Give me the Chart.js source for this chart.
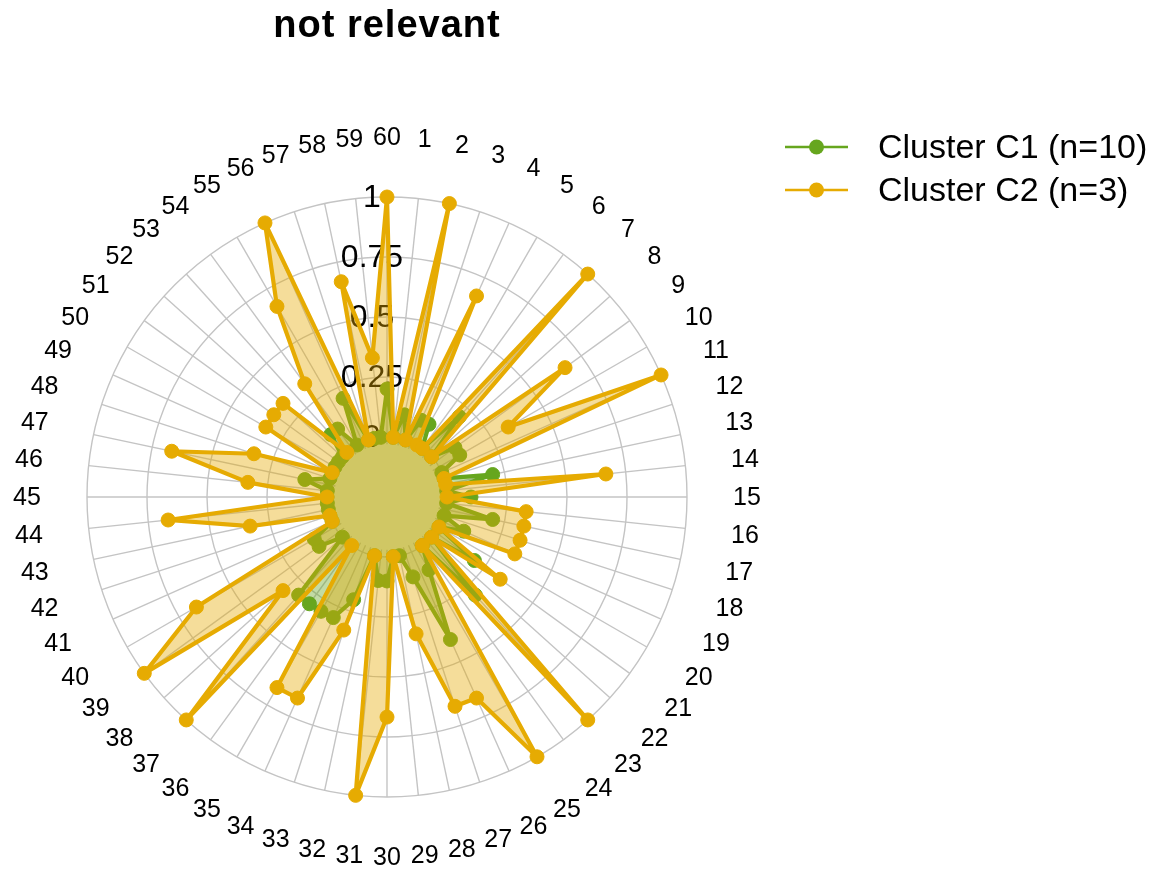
<!DOCTYPE html>
<html><head><meta charset="utf-8">
<script src="https://cdn.jsdelivr.net/npm/chart.js@4.4.1/dist/chart.umd.min.js"></script>
<style>html,body{margin:0;padding:0;background:#fff}</style>
</head><body>
<canvas id="c" width="1159" height="871" style="width:1159px;height:871px;display:block"></canvas>
<script>
const chartTitle = 'not relevant';
const categories = ['60','1','2','3','4','5','6','7','8','9','10','11','12','13','14','15','16','17','18','19',
  '20','21','22','23','24','25','26','27','28','29','30','31','32','33','34','35','36','37','38','39',
  '40','41','42','43','44','45','46','47','48','49','50','51','52','53','54','55','56','57','58','59'];
const seriesNames = ['Cluster C1 (n=10)', 'Cluster C2 (n=3)'];
const seriesColors = ['#66A61E', '#E6AB02'];
const c1Values = [0.2, 0, 0.1, 0, 0.1, 0.1, 0, 0.2, 0, 0.1,
  0.1, 0, 0, 0.2, 0, 0.1, 0, 0.2, 0, 0.1,
  0, 0.2, 0, 0.3, 0, 0.1, 0.4, 0.1, 0, 0,
  0.1, 0.1, 0, 0.2, 0.3, 0.3, 0.3, 0.3, 0, 0.1,
  0.1, 0, 0, 0, 0, 0, 0, 0.1, 0, 0,
  0, 0, 0, 0.1, 0.1, 0, 0.2, 0, 0, 0];
const c2Values = [1, 0, 1, 0, 0.667, 0, 0, 1, 0, 0.667,
  0.333, 1, 0, 0, 0.667, 0, 0.333, 0.333, 0.333, 0.333,
  0, 0.333, 0, 1, 0, 1, 0.667, 0.667, 0.333, 0,
  0.667, 1, 0, 0.333, 0.667, 0.667, 0, 1, 0.333, 1,
  0.667, 0, 0, 0.333, 0.667, 0, 0.333, 0.667, 0.333, 0,
  0.333, 0.333, 0.333, 0, 0.333, 0.667, 1, 0, 0.667, 0.333];
const tickLabels = ['0', '0.25', '0.5', '0.75', '1'];
const tickValues = [0, 0.25, 0.5, 0.75, 1];

const FONT = "'Liberation Sans', Arial, Helvetica, sans-serif";
const GRID = '#C4C4C4';

function hexA(hex, a) {
  const n = parseInt(hex.slice(1), 16);
  return `rgba(${(n >> 16) & 255},${(n >> 8) & 255},${n & 255},${a})`;
}

const decorPlugin = {
  id: 'decor',
  beforeDatasetsDraw(chart) {
    const s = chart.scales.r;
    const ctx = chart.ctx;
    ctx.save();
    ctx.strokeStyle = GRID;
    ctx.lineWidth = 1.4;
    for (let i = 0; i < categories.length; i++) {
      const a = s.getPointPositionForValue(i, -0.03);
      const b = s.getPointPositionForValue(i, 1);
      ctx.beginPath(); ctx.moveTo(a.x, a.y); ctx.lineTo(b.x, b.y); ctx.stroke();
    }
    ctx.fillStyle = '#000';
    ctx.font = `32px ${FONT}`;
    ctx.textAlign = 'center';
    ctx.textBaseline = 'middle';
    tickValues.forEach((v, k) => {
      const d = s.getDistanceFromCenterForValue(v);
      ctx.fillText(tickLabels[k], s.xCenter - 15, s.yCenter - d + 1);
    });
    ctx.font = `25px ${FONT}`;
    for (let i = 0; i < categories.length; i++) {
      const p = s.getPointPositionForValue(i, 1.25);
      ctx.fillText(categories[i], p.x, p.y + 1);
    }
    ctx.restore();
  },
  afterDraw(chart) {
    const s = chart.scales.r;
    const ctx = chart.ctx;
    ctx.save();
    ctx.fillStyle = '#000';
    ctx.font = `bold 38px ${FONT}`;
    ctx.textAlign = 'center';
    ctx.textBaseline = 'middle';
    try { ctx.letterSpacing = '1px'; } catch (e) {}
    ctx.fillText(chartTitle, s.xCenter, 27);
    try { ctx.letterSpacing = '0px'; } catch (e) {}
    ctx.textAlign = 'left';
    ctx.font = `34px ${FONT}`;
    chart.data.datasets.forEach((ds, i) => {
      const y = 147 + i * 43;
      ctx.strokeStyle = ds.borderColor;
      ctx.lineWidth = 2.5;
      ctx.beginPath(); ctx.moveTo(785, y); ctx.lineTo(848, y); ctx.stroke();
      ctx.fillStyle = ds.borderColor;
      ctx.beginPath(); ctx.arc(816.5, y, 7.5, 0, Math.PI * 2); ctx.fill();
      ctx.fillStyle = '#000';
      ctx.fillText(ds.label, 878, y + 2);
    });
    ctx.restore();
  }
};

const mk = (k, values, order) => ({
  label: seriesNames[k],
  data: values,
  order: order,
  borderColor: seriesColors[k],
  backgroundColor: hexA(seriesColors[k], 0.4),
  pointBackgroundColor: seriesColors[k],
  pointBorderColor: seriesColors[k],
  pointBorderWidth: 1,
  pointRadius: 7,
  borderWidth: 4.2,
  borderJoinStyle: 'round',
  borderCapStyle: 'round',
  fill: 'start',
  tension: 0
});

new Chart(document.getElementById('c'), {
  type: 'radar',
  data: {
    labels: categories,
    datasets: [mk(0, c1Values, 1), mk(1, c2Values, 0)]
  },
  options: {
    responsive: false,
    devicePixelRatio: 1,
    animation: false,
    events: [],
    layout: { padding: { left: 87, top: 197, right: 472, bottom: 74 } },
    plugins: { legend: { display: false }, title: { display: false }, tooltip: { enabled: false } },
    scales: {
      r: {
        min: -0.25,
        max: 1,
        ticks: { stepSize: 0.25, display: false },
        grid: { circular: true, color: GRID, lineWidth: 1.4 },
        angleLines: { display: false },
        pointLabels: { display: false }
      }
    }
  },
  plugins: [decorPlugin]
});
</script>
</body></html>
